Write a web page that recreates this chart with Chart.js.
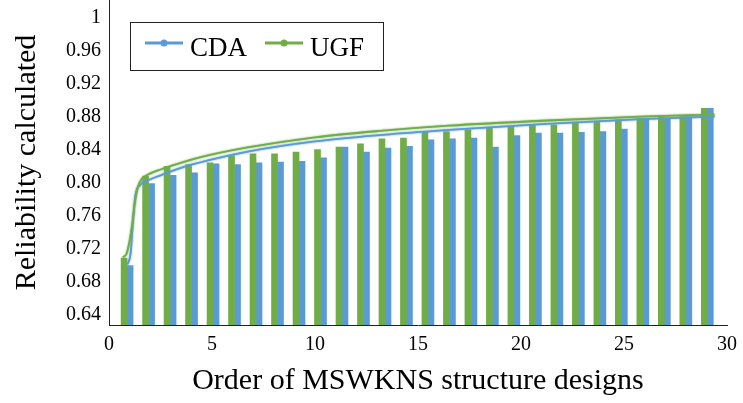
<!DOCTYPE html>
<html>
<head>
<meta charset="utf-8">
<script src="https://cdn.jsdelivr.net/npm/chart.js@4"></script>
<style>
    html, body { margin: 0; padding: 0; background: #fff; }
    #wrap { width: 743px; height: 403px; }
</style>
</head>
<body>
<div id="wrap"><canvas id="reliabilityChart" width="743" height="403"></canvas></div>
<script>
// order of the designs (one bar pair each)
const designs = [1, 2, 3, 4, 5, 6, 7, 8, 9, 10, 11, 12, 13, 14, 15, 16, 17, 18, 19, 20, 21, 22, 23, 24, 25, 26, 27, 28];

const cdaValues = [0.700, 0.799, 0.809, 0.812, 0.823, 0.822, 0.824, 0.825, 0.826, 0.830, 0.843, 0.837, 0.842, 0.844,
                   0.852, 0.853, 0.854, 0.843, 0.857, 0.860, 0.860, 0.861, 0.862, 0.865, 0.878, 0.878, 0.880, 0.890];
const ugfValues = [0.709, 0.808, 0.820, 0.822, 0.824, 0.833, 0.835, 0.835, 0.837, 0.840, 0.843, 0.847, 0.853, 0.854,
                   0.862, 0.862, 0.864, 0.867, 0.868, 0.870, 0.870, 0.872, 0.873, 0.876, 0.878, 0.879, 0.880, 0.890];

// smoothed trend curves
const cdaTrendX = [0.9, 1.05, 1.15, 1.28, 1.5, 1.9, 2.5, 3.6, 4.8, 6.8, 10, 13.3, 16.5, 21, 25.8, 29.4];
const cdaTrendY = [0.701, 0.715, 0.748, 0.784, 0.797, 0.803, 0.809, 0.819, 0.827, 0.838, 0.850, 0.858, 0.864, 0.871, 0.877, 0.880];
const ugfTrendX = [0.67, 0.85, 1.1, 1.25, 1.4, 1.6, 1.9, 2.5, 3.6, 4.8, 6.8, 10, 13.3, 16.5, 21, 25.8, 29.4];
const ugfTrendY = [0.710, 0.714, 0.745, 0.775, 0.795, 0.805, 0.810, 0.816, 0.825, 0.833, 0.843, 0.855, 0.863, 0.869, 0.875, 0.880, 0.8825];

const xTicks = [0, 5, 10, 15, 20, 25, 30];
const yTicks = [0.64, 0.68, 0.72, 0.76, 0.80, 0.84, 0.88, 0.92, 0.96, 1];

const seriesNames = ['CDA', 'UGF'];
const blue = '#5B9BD5';
const green = '#70AD47';

function toPoints(xs, ys) {
    return xs.map((x, i) => ({ x: x, y: ys[i] }));
}

// legend in a framed box, line with a dot like the original
const boxLegend = {
    id: 'boxLegend',
    afterDraw(chart) {
        const ctx = chart.ctx;
        ctx.save();
        ctx.strokeStyle = '#222';
        ctx.lineWidth = 1;
        ctx.strokeRect(130.5, 22.5, 253, 48);
        const items = [
            { name: seriesNames[0], color: blue, x: 145 },
            { name: seriesNames[1], color: green, x: 265 }
        ];
        items.forEach(item => {
            ctx.strokeStyle = item.color;
            ctx.lineWidth = 3;
            ctx.beginPath();
            ctx.moveTo(item.x, 43);
            ctx.lineTo(item.x + 38, 43);
            ctx.stroke();
            ctx.fillStyle = item.color;
            ctx.beginPath();
            ctx.arc(item.x + 19, 43, 3.5, 0, Math.PI * 2);
            ctx.fill();
            ctx.fillStyle = '#000';
            ctx.font = '27px "Liberation Serif", "Times New Roman", serif';
            ctx.textBaseline = 'middle';
            ctx.fillText(item.name, item.x + 45, 49);
        });
        ctx.restore();
    }
};

// soft glow on the trend lines
const lineGlow = {
    id: 'lineGlow',
    beforeDatasetDraw(chart, args) {
        const ds = chart.data.datasets[args.index];
        if (ds.type !== 'line') return;
        chart.ctx.save();
        chart.ctx.shadowColor = ds.borderColor;
        chart.ctx.shadowBlur = 2;
    },
    afterDatasetDraw(chart, args) {
        const ds = chart.data.datasets[args.index];
        if (ds.type !== 'line') return;
        chart.ctx.restore();
    }
};

const serif = '"Liberation Serif", "Times New Roman", serif';

const ctx = document.getElementById('reliabilityChart').getContext('2d');
new Chart(ctx, {
    type: 'bar',
    data: {
        labels: designs,
        datasets: [
            {
                type: 'line',
                label: seriesNames[1],
                data: toPoints(ugfTrendX, ugfTrendY),
                xAxisID: 'x',
                borderColor: green,
                borderWidth: 1.8,
                pointRadius: 0,
                cubicInterpolationMode: 'monotone',
                order: 0
            },
            {
                type: 'line',
                label: seriesNames[0],
                data: toPoints(cdaTrendX, cdaTrendY),
                xAxisID: 'x',
                borderColor: blue,
                borderWidth: 1.8,
                pointRadius: 0,
                cubicInterpolationMode: 'monotone',
                order: 0
            },
            {
                label: seriesNames[1],
                data: ugfValues,
                xAxisID: 'xb',
                backgroundColor: green,
                barThickness: 6,
                order: 1
            },
            {
                label: seriesNames[0],
                data: cdaValues,
                xAxisID: 'xb',
                backgroundColor: blue,
                barThickness: 6,
                order: 1
            }
        ]
    },
    options: {
        responsive: false,
        animation: false,
        layout: { padding: { left: 0, right: 16, top: 0, bottom: 0 } },
        plugins: {
            legend: { display: false },
            tooltip: { enabled: false }
        },
        scales: {
            x: {
                type: 'linear',
                position: 'bottom',
                offset: false,
                min: 0,
                max: 30,
                afterBuildTicks: scale => { scale.ticks = xTicks.map(v => ({ value: v })); },
                afterFit: scale => {
                    scale.height = 78;
                    scale.paddingLeft = 0;
                    scale.paddingRight = 0;
                },
                grid: { display: false, drawTicks: false, offset: false },
                border: { display: true, color: '#222', width: 1 },
                ticks: { color: '#000', padding: 8, font: { family: serif, size: 20 } },
                title: {
                    display: true,
                    text: 'Order of MSWKNS structure designs',
                    color: '#000',
                    font: { family: serif, size: 30 },
                    padding: { top: 0, bottom: 4 }
                }
            },
            xb: {
                type: 'linear',
                display: false,
                offset: false,
                grid: { offset: false },
                min: 0.158,
                max: 28.916
            },
            y: {
                min: 0.628,
                max: 1.021,
                afterBuildTicks: scale => { scale.ticks = yTicks.map(v => ({ value: v })); },
                afterFit: scale => {
                    scale.width = 109;
                    scale.paddingTop = 0;
                    scale.paddingBottom = 0;
                },
                grid: { display: false, drawTicks: false },
                border: { display: true, color: '#222', width: 1 },
                ticks: {
                    color: '#000',
                    padding: 8,
                    font: { family: serif, size: 20 },
                    callback: v => (v === 1 ? '1' : v.toFixed(2))
                },
                title: {
                    display: true,
                    text: 'Reliability calculated',
                    color: '#000',
                    font: { family: serif, size: 30 },
                    padding: { top: 9, bottom: 0 }
                }
            }
        }
    },
    plugins: [boxLegend, lineGlow]
});
</script>
</body>
</html>
